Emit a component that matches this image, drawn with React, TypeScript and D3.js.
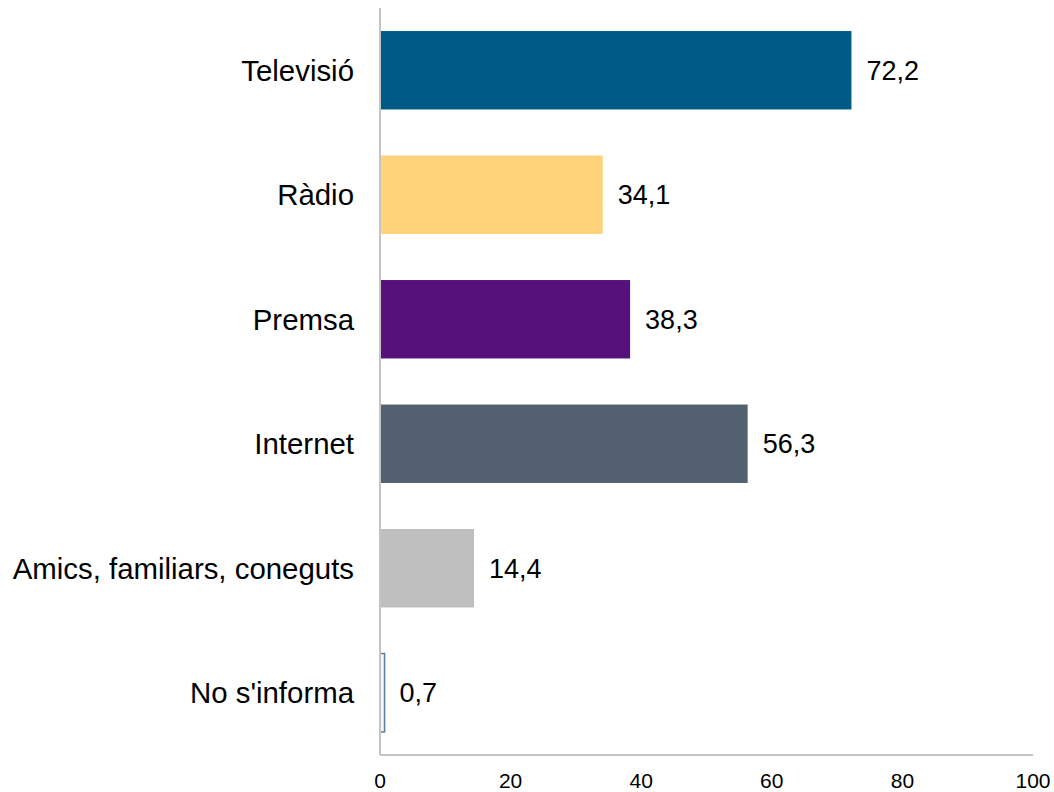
import React from "react";
import * as d3 from "d3";

const categories = ["Televisió", "Ràdio", "Premsa", "Internet", "Amics, familiars, coneguts", "No s'informa"];
const values = [72.2, 34.1, 38.3, 56.3, 14.4, 0.7];
const fills = ["#005a86", "#ffd379", "#54127a", "#52606f", "#bfbfbf", "#f2f6f9"];
const strokes = ["none", "none", "none", "none", "none", "#5a7f9a"];
const ticks = [0, 20, 40, 60, 80, 100];

const W = 1054;
const H = 792;
const left = 380;
const right = 1033;
const top = 8;
const bottom = 755;
const font = "'Liberation Sans', Arial, sans-serif";

export default function App() {
  const x = d3.scaleLinear().domain([0, 100]).range([left, right]);
  const y = d3.scaleBand<string>().domain(categories).range([top, bottom]).paddingInner(0.37).paddingOuter(0.185);
  const fmt = (v: number) => v.toFixed(1).replace(".", ",");
  return (
    <svg width={W} height={H} style={{ position: "absolute", left: 0, top: 0, background: "#fff" }} fontFamily={font}>
      {categories.map((c, i) => {
        const yy = y(c)!;
        const bw = y.bandwidth();
        return (
          <g key={c}>
            <rect
              x={x(0)}
              y={yy}
              width={x(values[i]) - x(0)}
              height={bw}
              fill={fills[i]}
              stroke={strokes[i]}
              strokeWidth={strokes[i] === "none" ? 0 : 1.5}
            />
            <text x={x(values[i]) + 15} y={yy + bw / 2} dy="0.35em" fontSize={27} fill="#000">
              {fmt(values[i])}
            </text>
            <text x={left - 26} y={yy + bw / 2} dy="0.35em" fontSize={29.4} fill="#000" textAnchor="end">
              {c}
            </text>
          </g>
        );
      })}
      <line x1={left} x2={left} y1={top} y2={bottom} stroke="#c4c4c4" strokeWidth={2} />
      <line x1={left} x2={right} y1={bottom} y2={bottom} stroke="#c4c4c4" strokeWidth={2} />
      {ticks.map((t) => (
        <text key={t} x={x(t)} y={781} dy="0.35em" fontSize={21} textAnchor="middle" fill="#000">
          {t}
        </text>
      ))}
    </svg>
  );
}
